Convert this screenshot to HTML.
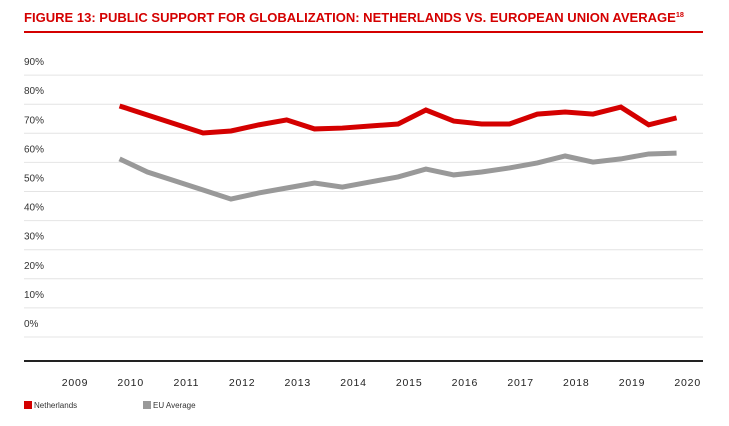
<!DOCTYPE html>
<html><head><meta charset="utf-8"><style>
body{margin:0;background:#fff;width:729px;height:421px;overflow:hidden;font-family:"Liberation Sans",sans-serif}
svg text{font-family:"Liberation Sans",sans-serif}
</style></head><body>
<svg width="729" height="421">
<text x="24" y="22" font-size="12.5" font-weight="bold" fill="#d40000" textLength="660" lengthAdjust="spacingAndGlyphs">FIGURE 13: PUBLIC SUPPORT FOR GLOBALIZATION: NETHERLANDS VS. EUROPEAN UNION AVERAGE<tspan font-size="7" dy="-5">18</tspan></text>
<rect x="24" y="31" width="679" height="2" fill="#d40000"/>
<g id="grid"></g><g id="lines"></g>
<rect x="24" y="360" width="679" height="2" fill="#222"/>
<g>
<rect x="24" y="401" width="8" height="8" fill="#d40000"/>
<text x="34" y="408" font-size="8" fill="#333">Netherlands</text>
<rect x="143" y="401" width="8" height="8" fill="#999"/>
<text x="153" y="408" font-size="8" fill="#333">EU Average</text>
</g>
</svg>
<script>
const yTicks=[0,10,20,30,40,50,60,70,80,90];
const years=[2009,2010,2011,2012,2013,2014,2015,2016,2017,2018,2019,2020];
const times=[2009.8,2010.3,2010.8,2011.3,2011.8,2012.3,2012.8,2013.3,2013.8,2014.3,2014.8,2015.3,2015.8,2016.3,2016.8,2017.3,2017.8,2018.3,2018.8,2019.3,2019.8];
const netherlands=[79.4,76.3,73.2,70.1,70.8,72.9,74.6,71.5,71.8,72.5,73.2,78.0,74.2,73.2,73.2,76.6,77.3,76.6,79.0,72.9,75.3];
const euAverage=[61.2,56.7,53.6,50.5,47.4,49.5,51.2,52.9,51.5,53.3,55.0,57.7,55.7,56.7,58.1,59.8,62.2,60.1,61.2,62.9,63.2];
const NS="http://www.w3.org/2000/svg";
const svg=document.querySelector('svg');
const y=v=>337-v*2.91;
const x=t=>75+(t-2009)*55.7;
const grid=document.getElementById('grid');
yTicks.forEach(v=>{
 const l=document.createElementNS(NS,'line');
 l.setAttribute('x1',24);l.setAttribute('x2',703);l.setAttribute('y1',y(v));l.setAttribute('y2',y(v));
 l.setAttribute('stroke','#e4e4e4');l.setAttribute('stroke-width','1');
 
 
 grid.appendChild(l);
 const t=document.createElementNS(NS,'text');
 t.setAttribute('x',24);t.setAttribute('y',y(v)-10);t.setAttribute('font-size','10');t.setAttribute('fill','#333');
 t.textContent=v+'%';
 
 
 grid.appendChild(t);
});
years.forEach(yr=>{
 const t=document.createElementNS(NS,'text');
 t.setAttribute('x',x(yr));t.setAttribute('y',386);t.setAttribute('font-size','10.5');t.setAttribute('fill','#222');
 t.setAttribute('text-anchor','middle');t.setAttribute('letter-spacing','0.8');
 t.textContent=yr;
 
 
 grid.appendChild(t);
});
const lines=document.getElementById('lines');
function drawLine(vals,color,name){
 const p=document.createElementNS(NS,'polyline');
 p.setAttribute('points',vals.map((v,i)=>x(times[i])+','+y(v)).join(' '));
 p.setAttribute('fill','none');p.setAttribute('stroke',color);p.setAttribute('stroke-width','5');
 p.setAttribute('stroke-linejoin','miter');
 
 
 lines.appendChild(p);
}
drawLine(euAverage,'#999999','eu-average-line');
drawLine(netherlands,'#d40000','netherlands-line');
</script>
</body></html>
